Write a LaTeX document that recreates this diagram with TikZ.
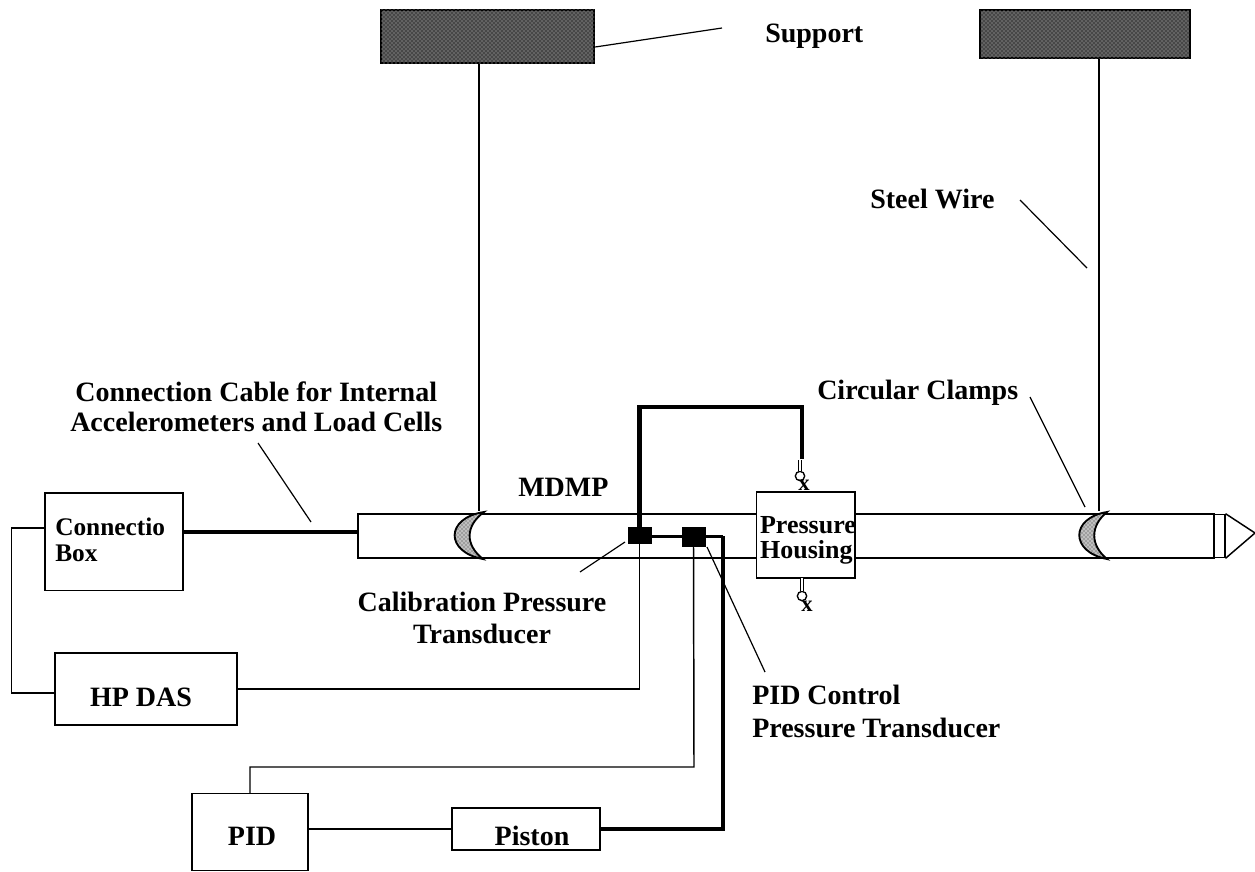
\documentclass[tikz,border=0pt]{standalone}
\usepackage{fontspec}
\setmainfont{Liberation Serif}
\usetikzlibrary{positioning,patterns}

\begin{document}
\begin{tikzpicture}[
    x=0.75pt, y=-0.75pt,
    box/.style={rectangle, draw=black, fill=white, inner sep=0pt, line width=1pt},
    support/.style={rectangle, draw=black, fill=black!72, inner sep=0pt, line width=1.6pt, postaction={pattern=crosshatch dots, pattern color=white!75!black}},
    sensor/.style={rectangle, draw=black, fill=black, inner sep=0pt},
    port/.style={circle, draw=black, fill=white, line width=1pt, minimum size=7pt, inner sep=0pt},
    label/.style={font=\bfseries\fontsize{21}{22.5}\selectfont, inner sep=0pt, align=left},
    portlabel/.style={label, font=\bfseries\fontsize{17}{18}\selectfont},
    wire/.style={line width=1.1pt, draw=black},
    leader/.style={line width=0.9pt, draw=black},
    cable/.style={line width=3.4pt, draw=black},
    hose/.style={line width=2pt, draw=black},
    stem/.style={double=white, double distance=1.4pt, line width=1pt, draw=black},
    clamp/.style={draw=black, line width=1.4pt, preaction={fill=black!25}, pattern=crosshatch dots, pattern color=black!80}
]
\useasboundingbox (0,0) rectangle (1255,871);

% Supports and tube
\node[support, minimum width=160pt, minimum height=40pt] (supporta) at (487.5,36.5) {};
\node[support, minimum width=157pt, minimum height=36pt] (supportb) at (1085,34) {};
\node[box, minimum width=642pt, minimum height=33pt] (tube) at (786,536) {};
\node[box, minimum width=8pt, minimum height=32.5pt] (cap) at (1219.5,536) {};
\coordinate (tip) at (1255,533);
\draw[wire] (cap.north east) -- (tip) -- (cap.south east);

% Clamps
\coordinate (clampatop) at (479,511);
\coordinate (clampbtop) at (1099,511);
\draw[clamp] (484,512) .. controls (445,518) and (445,552) .. (483,559) .. controls (465,545) and (465,526) .. (484,512) -- cycle;
\draw[clamp] (1107,512) .. controls (1070,518) and (1070,552) .. (1107,559) .. controls (1090,545) and (1090,526) .. (1107,512) -- cycle;
\draw[wire] (supporta.south -| clampatop) -- (clampatop);
\draw[wire] (supportb.south -| clampbtop) -- (clampbtop);

% Boxes
\node[box, minimum width=103.5pt, minimum height=73pt] (conbox) at (114,541.5) {};
\node[box, minimum width=136.5pt, minimum height=54pt] (hpdas) at (146,689) {};
\node[box, minimum width=87pt, minimum height=57.5pt] (pid) at (250,832) {};
\node[box, minimum width=111pt, minimum height=31.5pt] (piston) at (526,829) {};
\node[box, minimum width=74pt, minimum height=64.5pt] (housing) at (805.5,535) {};
\node[sensor, minimum width=17pt, minimum height=12pt] (calib) at (639.5,535) {};
\node[sensor, minimum width=17pt, minimum height=14pt] (pidsensor) at (693.5,536.5) {};

% Ports on the housing
\coordinate (portatop) at (800,460);
\coordinate (portbtop) at (802,578);
\node[port] (porta) at (800,476) {};
\node[port] (portb) at (802,596) {};
\node[portlabel] (xa) at (804,485) {x};
\node[portlabel] (xb) at (807,606) {x};
\draw[stem] (portatop) -- (porta);
\draw[stem] (portbtop) -- (portb);

% Wires
\draw[wire] ([yshift=10pt]conbox.west) -- ++(-33,0) |- ([yshift=-3pt]hpdas.west);
\draw[wire] (hpdas.east) -| (calib.south);
\draw[wire] (pid.north) |- (694,767) -- (pidsensor.south);
\draw[wire] (pid.east |- piston.west) -- (piston.west);

% Cables and hoses
\draw[cable] (conbox.east |- 0,532) -- (tube.west |- 0,532);
\draw[cable] (calib.north) |- (802,407) -- (802,459);
\draw[hose] (pidsensor.west -| calib.east) -- (pidsensor.west);
\draw[hose] (pidsensor.east) -- (723,536.5);
\draw[cable] (723,536) -- (723,829) -- (piston.east);

% Labels
\node[label, anchor=west] (supportlabel) at (765,36) {Support};
\node[label, anchor=west] (steellabel) at (870,199) {Steel Wire};
\node[label, anchor=west] (clamplabel) at (817,393) {Circular Clamps};
\node[label, anchor=north west, align=center] (cablelabel) at (70,382) {Connection Cable for Internal\\Accelerometers and Load Cells};
\node[label, anchor=west] (mdmplabel) at (518,487) {MDMP};
\node[label, anchor=north west, font=\bfseries\fontsize{19}{19.5}\selectfont] (conlabel) at (55,518) {Connectio\\Box};
\node[label, font=\bfseries\fontsize{19.5}{18.75}\selectfont] (pressurelabel) at (808,540) {Pressure\\Housing};
\node[label] (daslabel) at (141,697) {HP DAS};
\node[label] (pidname) at (252,836) {PID};
\node[label] (pistonlabel) at (532,836) {Piston};
\node[label, anchor=north, align=center, font=\bfseries\fontsize{21}{23.7}\selectfont] (caliblabel) at (482,592) {Calibration Pressure\\Transducer};
\node[label, anchor=north west, font=\bfseries\fontsize{21}{24.7}\selectfont] (pidlabel) at (752,685) {PID Control\\Pressure Transducer};

% Leaders
\draw[leader] (supporta.east |- 0,47) -- (722,28);
\draw[leader] (1020,200) -- (1087,268);
\draw[leader] (1030,397) -- (1085,507);
\draw[leader] (258,443) -- (311,522);
\draw[leader] (580,572) -- (625,542);
\draw[leader] (707,547) -- (765,672);

\end{tikzpicture}
\end{document}
